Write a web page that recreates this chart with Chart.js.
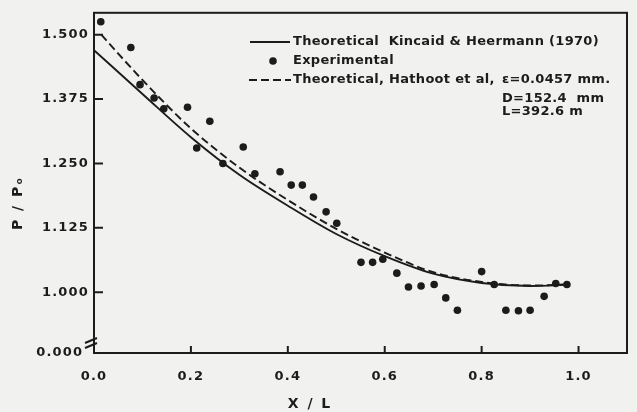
<!DOCTYPE html>
<html>
<head>
<meta charset="utf-8">
<script src="https://cdn.jsdelivr.net/npm/chart.js@4/dist/chart.umd.min.js"></script>
<style>
  html, body { margin: 0; padding: 0; background: #f1f1ef; }
  #wrap { width: 637px; height: 412px; }
</style>
</head>
<body>
<div id="wrap"><canvas id="chart" width="637" height="412"></canvas></div>
<script>
// experimental points (X/L, P/Po)
const expX = [0.014, 0.076, 0.095, 0.124, 0.144, 0.193, 0.212, 0.239, 0.266, 0.308, 0.332, 0.384,
              0.407, 0.430, 0.453, 0.479, 0.501, 0.551, 0.575, 0.596, 0.625, 0.649, 0.675, 0.702,
              0.726, 0.750, 0.800, 0.826, 0.850, 0.876, 0.900, 0.929, 0.953, 0.976];
const expY = [1.525, 1.475, 1.403, 1.377, 1.356, 1.359, 1.280, 1.332, 1.250, 1.282, 1.230, 1.234,
              1.208, 1.208, 1.185, 1.156, 1.134, 1.058, 1.058, 1.064, 1.037, 1.010, 1.012, 1.015,
              0.989, 0.965, 1.040, 1.015, 0.965, 0.964, 0.965, 0.992, 1.017, 1.015];

// theoretical curves
const kincaidX = [0, 0.1, 0.2, 0.3, 0.4, 0.5, 0.6, 0.7, 0.8, 0.9, 0.98];
const kincaidY = [1.470, 1.385, 1.301, 1.228, 1.168, 1.113, 1.070, 1.036, 1.018, 1.012, 1.015];
const hathootX = [0.015, 0.1, 0.2, 0.3, 0.4, 0.5, 0.6, 0.7, 0.8, 0.9, 0.98];
const hathootY = [1.500, 1.412, 1.318, 1.242, 1.179, 1.123, 1.077, 1.039, 1.020, 1.013, 1.015];

// axes (bottom of the y axis is a broken axis labelled 0.000)
const xTicks = [0, 0.2, 0.4, 0.6, 0.8, 1.0];
const xTickLabels = ['0.0', '0.2', '0.4', '0.6', '0.8', '1.0'];
const yTicks = [0.882, 1.0, 1.125, 1.25, 1.375, 1.5];
const yTickLabels = ['0.000 ', '1.000', '1.125', '1.250', '1.375', '1.500'];

const kincaidLabel = 'Theoretical  Kincaid & Heermann (1970)';
const expLabel = 'Experimental';
const hathootLabel = 'Theoretical, Hathoot et al,';
const paramLabels = ['\u03b5=0.0457 mm.', 'D=152.4  mm', 'L=392.6 m'];

const ink = '#1c1c1c';
const font = "'DejaVu Sans', sans-serif";

function pts(xs, ys) {
  return xs.map((x, i) => ({ x, y: ys[i] }));
}

// scanned lettering is wide, so space the letters out a bit
const spacing = {
  id: 'spacing',
  beforeLayout(chart) { chart.ctx.letterSpacing = '1.2px'; },
  beforeDraw(chart) { chart.ctx.letterSpacing = '1.2px'; }
};

// background, frame, inward ticks, axis break, titles, legend
const decor = {
  id: 'decor',
  beforeDraw(chart) {
    const ctx = chart.ctx;
    ctx.save();
    ctx.fillStyle = '#f1f1ef';
    ctx.fillRect(0, 0, chart.width, chart.height);
    ctx.restore();
  },
  afterDraw(chart) {
    const { ctx, chartArea: a, scales: { x, y } } = chart;
    ctx.save();
    ctx.strokeStyle = ink;
    ctx.lineWidth = 2;
    ctx.strokeRect(a.left, a.top, a.right - a.left, a.bottom - a.top);

    ctx.beginPath();
    xTicks.slice(1).forEach(v => {
      const px = x.getPixelForValue(v);
      ctx.moveTo(px, a.bottom);
      ctx.lineTo(px, a.bottom - 7);
    });
    yTicks.slice(1).forEach(v => {
      const py = y.getPixelForValue(v);
      ctx.moveTo(a.left, py);
      ctx.lineTo(a.left + 9, py);
    });
    // axis break
    ctx.moveTo(a.left - 9, a.bottom - 10);
    ctx.lineTo(a.left + 3, a.bottom - 15);
    ctx.moveTo(a.left - 9, a.bottom - 5);
    ctx.lineTo(a.left + 3, a.bottom - 10);
    ctx.stroke();

    ctx.fillStyle = ink;
    ctx.font = 'bold 14px ' + font;
    ctx.letterSpacing = '2px';
    ctx.textAlign = 'center';
    ctx.textBaseline = 'middle';
    ctx.fillText('X / L', 310, 404);
    ctx.save();
    ctx.translate(18, 203);
    ctx.rotate(-Math.PI / 2);
    ctx.fillText('P / P\u2092', 0, 0);
    ctx.restore();

    // legend
    ctx.font = 'bold 13px ' + font;
    ctx.letterSpacing = '0.3px';
    ctx.textAlign = 'left';
    ctx.lineWidth = 1.8;
    ctx.beginPath();
    ctx.moveTo(250, 42); ctx.lineTo(290, 42);
    ctx.stroke();
    ctx.fillText(kincaidLabel, 293, 42);

    ctx.beginPath();
    ctx.arc(273, 61, 3.8, 0, Math.PI * 2);
    ctx.fill();
    ctx.fillText(expLabel, 293, 61);

    ctx.setLineDash([8, 4]);
    ctx.beginPath();
    ctx.moveTo(249, 80); ctx.lineTo(291, 80);
    ctx.stroke();
    ctx.setLineDash([]);
    ctx.fillText(hathootLabel, 293, 80);
    ctx.fillText(paramLabels[0], 502, 80);
    ctx.fillText(paramLabels[1], 502, 99);
    ctx.fillText(paramLabels[2], 502, 112);
    ctx.restore();
  }
};

new Chart(document.getElementById('chart'), {
  type: 'scatter',
  data: {
    datasets: [
      {
        label: kincaidLabel,
        type: 'line',
        data: pts(kincaidX, kincaidY),
        borderColor: ink,
        borderWidth: 1.9,
        pointRadius: 0,
        fill: false,
        cubicInterpolationMode: 'monotone'
      },
      {
        label: hathootLabel,
        type: 'line',
        data: pts(hathootX, hathootY),
        borderColor: ink,
        borderWidth: 1.9,
        borderDash: [8, 4],
        pointRadius: 0,
        fill: false,
        cubicInterpolationMode: 'monotone'
      },
      {
        label: expLabel,
        data: pts(expX, expY),
        pointRadius: 3.8,
        backgroundColor: ink,
        borderWidth: 0
      }
    ]
  },
  options: {
    responsive: false,
    animation: false,
    layout: { padding: { top: 11, right: 10, left: 0, bottom: 0 } },
    plugins: {
      legend: { display: false },
      tooltip: { enabled: false }
    },
    scales: {
      x: {
        type: 'linear',
        min: 0,
        max: 1.1,
        afterBuildTicks: s => { s.ticks = xTicks.map(v => ({ value: v })); },
        afterFit: s => { s.height = 59; },
        grid: { display: false, drawTicks: false },
        border: { display: false },
        ticks: {
          callback: v => xTickLabels[xTicks.indexOf(v)],
          padding: 16,
          maxRotation: 0,
          color: ink,
          font: { family: font, size: 13, weight: 'bold' }
        }
      },
      y: {
        type: 'linear',
        min: 0.882,
        max: 1.5425,
        afterBuildTicks: s => { s.ticks = yTicks.map(v => ({ value: v })); },
        afterFit: s => { s.width = 94; },
        grid: { display: false, drawTicks: false },
        border: { display: false },
        ticks: {
          callback: v => yTickLabels[yTicks.indexOf(v)],
          padding: 5,
          color: ink,
          font: { family: font, size: 13, weight: 'bold' }
        }
      }
    }
  },
  plugins: [spacing, decor]
});
</script>
</body>
</html>
